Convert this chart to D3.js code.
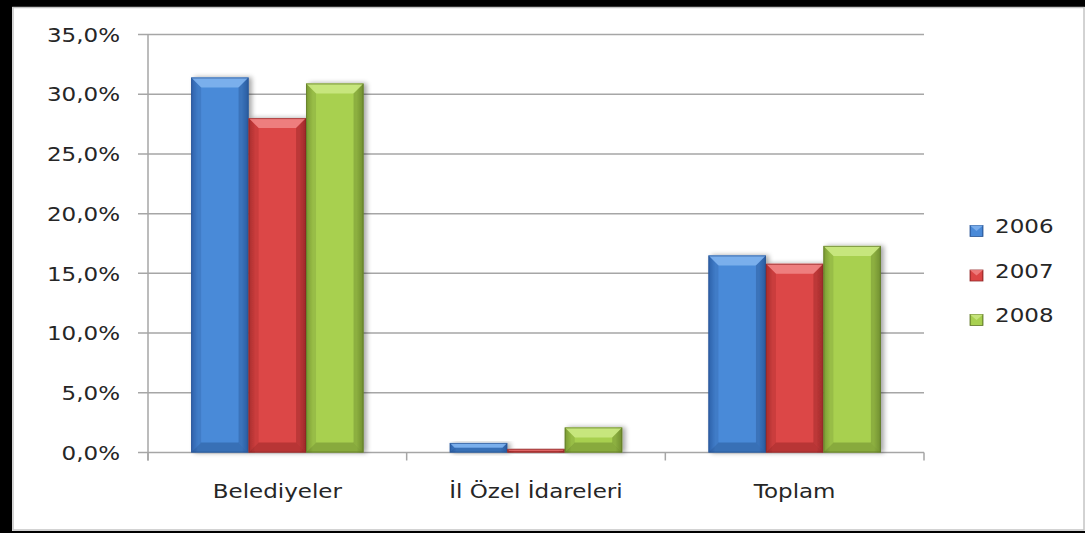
<!DOCTYPE html>
<html><head><meta charset="utf-8">
<script src="https://cdn.jsdelivr.net/npm/d3@7/dist/d3.min.js"></script>
<style>html,body{margin:0;padding:0;background:#fff;overflow:hidden;}svg{display:block;}</style>
</head><body>
<script>
const categories = ["Belediyeler", "İl Özel İdareleri", "Toplam"];
const seriesNames = ["2006", "2007", "2008"];
const values2006 = [31.4, 0.8, 16.5];
const values2007 = [28.0, 0.3, 15.8];
const values2008 = [30.9, 2.1, 17.3];
const yTicks = [0, 5, 10, 15, 20, 25, 30, 35];
const seriesValues = [values2006, values2007, values2008];

const W = 1085, H = 533;
const colors = [
  {mid:"#4a8ad8", edge:"#2f62aa", top:"#80b2ee", dark:"#24508e", line:"#2a5594"},
  {mid:"#dc4646", edge:"#a82e2e", top:"#f08484", dark:"#8c2424", line:"#922828"},
  {mid:"#a8d050", edge:"#7a9a34", top:"#cae882", dark:"#627c28", line:"#5e7626"}
];

const svg = d3.select("body").append("svg").attr("width", W).attr("height", H);
const defs = svg.append("defs");
colors.forEach((c,i)=>{
  const g = defs.append("linearGradient").attr("id","g"+i).attr("x1","0").attr("x2","1").attr("y1","0").attr("y2","0");
  g.append("stop").attr("offset","0").attr("stop-color",c.edge);
  g.append("stop").attr("offset","0.12").attr("stop-color",c.mid);
  g.append("stop").attr("offset","0.88").attr("stop-color",c.mid);
  g.append("stop").attr("offset","1").attr("stop-color",c.edge);
});
const sh = defs.append("filter").attr("id","sh").attr("x","-20%").attr("y","-20%").attr("width","150%").attr("height","150%");
sh.append("feGaussianBlur").attr("in","SourceAlpha").attr("stdDeviation","2.5").attr("result","b");
sh.append("feOffset").attr("in","b").attr("dx","3").attr("dy","0").attr("result","o");
sh.append("feComponentTransfer").attr("in","o").attr("result","o2").append("feFuncA").attr("type","linear").attr("slope","0.35");
const fm = sh.append("feMerge"); fm.append("feMergeNode").attr("in","o2"); fm.append("feMergeNode").attr("in","SourceGraphic");

// frame
svg.append("rect").attr("x",0).attr("y",0).attr("width",W).attr("height",H).attr("fill","#fff");
svg.append("rect").attr("x",0).attr("y",0).attr("width",W).attr("height",7).attr("fill","#000");
svg.append("rect").attr("x",0).attr("y",0).attr("width",12).attr("height",H).attr("fill","#000");
svg.append("rect").attr("x",0).attr("y",531).attr("width",W).attr("height",2).attr("fill","#000");
svg.append("rect").attr("x",13).attr("y",7.5).attr("width",1071).attr("height",522.5).attr("fill","none").attr("stroke","#c4c4c4").attr("stroke-width",1.5);

const plot = {left:148, right:924, top:34.5, bottom:452.5};
const x0 = d3.scaleBand().domain(categories).range([plot.left, plot.right]).paddingInner(0).paddingOuter(0);
const x1 = d3.scaleBand().domain(seriesNames).range([0, x0.bandwidth()]).paddingInner(0).paddingOuter(0.75);
const y = d3.scaleLinear().domain([0,35]).range([plot.bottom, plot.top]);

const SX = 1.15;
const FONT = "DejaVu Sans, Verdana, sans-serif";
const yAxis = svg.append("g");
yTicks.forEach(t=>{
  yAxis.append("line").attr("x1",plot.left-10).attr("x2",plot.right).attr("y1",y(t)).attr("y2",y(t))
    .attr("stroke","#a6a6a6").attr("stroke-width",1.5);
  yAxis.append("text").attr("transform",`translate(120,${y(t)}) scale(${SX},1)`)
    .attr("text-anchor","end").attr("dy","0.36em")
    .attr("font-family",FONT).attr("font-size",20).attr("fill","#262626")
    .text(d3.format(".1f")(t).replace(".",",")+"%");
});
svg.append("line").attr("x1",plot.left).attr("x2",plot.left).attr("y1",plot.top).attr("y2",plot.bottom+8)
  .attr("stroke","#a6a6a6").attr("stroke-width",1.5);
const bounds = categories.map(c=>x0(c)).concat([plot.right]);
bounds.forEach(b=>{
  svg.append("line").attr("x1",b).attr("x2",b).attr("y1",plot.bottom).attr("y2",plot.bottom+8)
    .attr("stroke","#a6a6a6").attr("stroke-width",1.5);
});

// bars
categories.forEach((cat,ci)=>{
  seriesNames.forEach((s,si)=>{
    const v = seriesValues[si][ci];
    const bx = x0(cat)+x1(s), bw = x1.bandwidth();
    const by = y(v), bh = y(0)-y(v);
    const c = colors[si];
    const g = svg.append("g").attr("filter","url(#sh)");
    g.append("rect").attr("x",bx).attr("y",by).attr("width",bw).attr("height",bh).attr("fill",`url(#g${si})`);
    const b = Math.min(10, bh/2, bw/2);
    g.append("path").attr("d",`M${bx},${by}L${bx+bw},${by}L${bx+bw-b},${by+b}L${bx+b},${by+b}Z`).attr("fill",c.top).attr("opacity",0.9);
    g.append("path").attr("d",`M${bx},${by+bh}L${bx+bw},${by+bh}L${bx+bw-b},${by+bh-b}L${bx+b},${by+bh-b}Z`).attr("fill",c.dark).attr("opacity",0.45);
    g.append("path").attr("d",`M${bx},${by}L${bx+b},${by+b}L${bx+b},${by+bh-b}L${bx},${by+bh}Z`).attr("fill",c.edge).attr("opacity",0.35);
    g.append("path").attr("d",`M${bx+bw},${by}L${bx+bw-b},${by+b}L${bx+bw-b},${by+bh-b}L${bx+bw},${by+bh}Z`).attr("fill",c.dark).attr("opacity",0.4);
    g.append("rect").attr("x",bx+0.5).attr("y",by+0.5).attr("width",Math.max(0,bw-1)).attr("height",Math.max(0,bh-1))
      .attr("fill","none").attr("stroke",c.line).attr("stroke-width",1).attr("opacity",0.7);
  });
});

categories.forEach(cat=>{
  svg.append("text").attr("transform",`translate(${x0(cat)+x0.bandwidth()/2},498) scale(${SX},1)`)
    .attr("text-anchor","middle")
    .attr("font-family",FONT).attr("font-size",20).attr("fill","#262626").text(cat);
});

// legend
const leg = svg.append("g");
seriesNames.forEach((s,i)=>{
  const ly = 231 + i*44.5;
  const c = colors[i];
  leg.append("rect").attr("x",970).attr("y",ly-5.5).attr("width",13).attr("height",11).attr("fill",`url(#g${i})`).attr("stroke",c.line).attr("stroke-width",0.8);
  leg.append("path").attr("d",`M970,${ly-5.5}L983,${ly-5.5}L976.5,${ly}Z`).attr("fill",c.top).attr("opacity",0.85);
  leg.append("text").attr("transform",`translate(995,${ly+2}) scale(${SX},1)`)
    .attr("font-family",FONT).attr("font-size",20).attr("fill","#262626").text(s);
});
</script>
</body></html>
